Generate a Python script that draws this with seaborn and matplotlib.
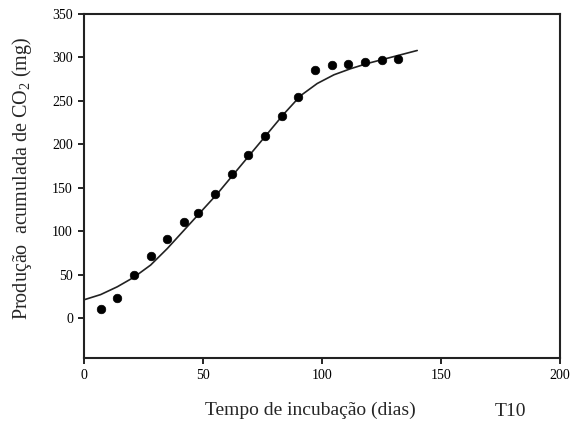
import matplotlib
matplotlib.use("Agg")
import matplotlib.pyplot as plt
import seaborn as sns
import pandas as pd

# Observed data (days, cumulative CO2 mg)
days = [7, 14, 21, 28, 35, 42, 48, 55, 62, 69, 76, 83, 90, 97, 104, 111, 118, 125, 132]
co2 = [10, 23, 50, 71, 91, 111, 121, 143, 166, 188, 210, 233, 255, 286, 291, 293, 295, 297, 298]

# Fitted curve
curve_days = [0, 7, 14, 21, 28, 35, 42, 49, 56, 63, 70, 77, 84, 91, 98, 105, 112, 119, 126, 133, 140]
curve_co2 = [21, 27, 36, 47, 61, 80, 101, 122, 143, 166, 189, 212, 235, 256, 270, 280, 287, 293, 298, 303, 308]

x_ticks = [0, 50, 100, 150, 200]
y_ticks = [0, 50, 100, 150, 200, 250, 300, 350]

sns.set_theme(style="ticks")
plt.rcParams['font.family'] = ['Liberation Serif', 'DejaVu Serif']
plt.rcParams['mathtext.fontset'] = 'custom'
plt.rcParams['mathtext.rm'] = 'Liberation Serif'

fig = plt.figure(figsize=(5.88, 4.30), dpi=100)
ax = fig.add_axes([84/588, 1-358/430, (560-84)/588, (358-14)/430])

obs = pd.DataFrame({"dias": days, "co2": co2})
fit = pd.DataFrame({"dias": curve_days, "co2": curve_co2})

sns.lineplot(data=fit, x="dias", y="co2", ax=ax, color="#222222", linewidth=1.2)
sns.scatterplot(data=obs, x="dias", y="co2", ax=ax, color="black", s=38,
                edgecolor="black", linewidth=0.5, zorder=3)

ax.set_xlim(0, 200)
ax.set_ylim(-46, 350)
ax.set_xticks(x_ticks)
ax.set_yticks(y_ticks)
ax.tick_params(direction="out", length=4, width=1.2, labelsize=10, colors="black", pad=4)
for s in ax.spines.values():
    s.set_linewidth(1.5)
    s.set_color("#222222")
    s.set_visible(True)

ax.set_xlabel("")
ax.set_ylabel("")
fig.text(310/588, 1-410/430, "Tempo de incubação (dias)", ha="center", va="center", fontsize=14)
fig.text(22/588, 1-178/430, "Produção  acumulada de CO$_2$ (mg)", ha="center", va="center",
         rotation=90, fontsize=14.5)
fig.text(510/588, 1-412/430, "T10", ha="center", va="center", fontsize=14)

fig.savefig("out.png", dpi=100)
